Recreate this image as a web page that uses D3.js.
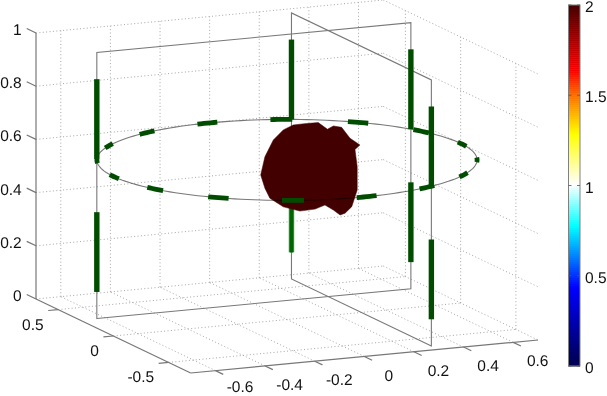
<!DOCTYPE html>
<html>
<head>
<meta charset="utf-8">
<script src="https://cdn.jsdelivr.net/npm/d3@7"></script>
<style>
html,body{margin:0;padding:0;background:#fff;}
svg{display:block;filter:blur(0.4px);}
text{font-family:"Liberation Sans",Arial,sans-serif;font-size:15.5px;fill:#111;text-rendering:geometricPrecision;}
</style>
</head>
<body>
<script>
// ---- data ----
const xTicks = [-0.6,-0.4,-0.2,0,0.2,0.4,0.6];
const yTicks = [-0.5,0,0.5];
const zTicks = [0,0.2,0.4,0.6,0.8,1];
const cbTicks = [0,0.5,1,1.5,2];
const axisLimit = 0.7;
const ringRadius = 0.7;
const ringZ = 0.6;
const planeOffset = 0.3;
const planeHalf = 0.633;
const barRanges = [[0.1,0.4],[0.6,0.9]];
const ringDashCenters = [157.5,180.5,-158,-135.2,-112.2,-89.2,-66.5,-45.6,-24,-1.3,21,44,67.7,90.8,113.5,135.7];
const ringDashHalf = 3.3;
// silhouette of the isosurface, in the plane y = 0
const blobX = [-.106,-.089,-.055,-.015,.025,.079,.126,.163,.187,.220,.254,.294,.274,.283,.283,.261,.234,.214,.187,.153,.113,.052,-.015,-.069,-.089];
const blobZ = [.553,.620,.680,.714,.729,.730,.729,.701,.711,.703,.659,.630,.615,.549,.462,.401,.379,.374,.395,.417,.405,.403,.425,.462,.501];
const cmapValues = [0,0.43,0.77,1,1.28,1.5,1.63,2];
const cmapColors = ["#000050","#0000ff","#00ffff","#ffffff","#ffff00","#ff6a00","#ff0000","#420000"];

// ---- projection built from scales ----
const W = 607, H = 396;
const svg = d3.select("body").append("svg").attr("width",W).attr("height",H);
const lim = [-axisLimit,axisLimit];
const xToPx = d3.scaleLinear().domain(lim).range([190.7,538]);
const xToPy = d3.scaleLinear().domain(lim).range([373,340]);
const yToPx = d3.scaleLinear().domain(lim).range([0,-154.7]);
const yToPy = d3.scaleLinear().domain(lim).range([0,-74]);
const zToPy = d3.scaleLinear().domain([0,1]).range([0,-266]);
const P = (x,y,z) => [xToPx(x)+yToPx(y), xToPy(x)+yToPy(y)+zToPy(z)];
const line3 = d3.line();
const path3 = pts => line3(pts.map(p=>P(p[0],p[1],p[2])));

function seg(parent,a,b,attrs){
  const l = parent.append("path").attr("d",path3([a,b])).attr("fill","none");
  Object.entries(attrs).forEach(([k,v])=>l.attr(k,v));
  return l;
}
const gridStyle = {stroke:"#9c9c9c","stroke-width":0.9,"stroke-dasharray":"1 2.4"};
const axisStyle = {stroke:"#777","stroke-width":1.2};
const planeStyle = {stroke:"#787878","stroke-width":1.1};

// ---- grid on walls and floor ----
const gGrid = svg.append("g");
const a = axisLimit;
xTicks.forEach(x=>{
  seg(gGrid,[x,a,0],[x,a,1],gridStyle);
  seg(gGrid,[x,-a,0],[x,a,0],gridStyle);
});
yTicks.forEach(y=>{
  seg(gGrid,[a,y,0],[a,y,1],gridStyle);
  seg(gGrid,[-a,y,0],[a,y,0],gridStyle);
});
zTicks.forEach(z=>{
  seg(gGrid,[-a,a,z],[a,a,z],gridStyle);
  seg(gGrid,[a,a,z],[a,-a,z],gridStyle);
});

// ---- axes, ticks, labels ----
const gAxes = svg.append("g");
seg(gAxes,[-a,a,0],[-a,a,1],axisStyle);
seg(gAxes,[-a,a,0],[-a,-a,0],axisStyle);
seg(gAxes,[-a,-a,0],[a,-a,0],axisStyle);
const fmt = v => String(v);
zTicks.forEach(z=>{
  seg(gAxes,[-a,a,z],[-a,a+0.084,z],axisStyle);
  const p = P(-a,a,z);
  gAxes.append("text").attr("x",p[0]-14.3).attr("y",p[1]+2).attr("text-anchor","end").text(fmt(z));
});
yTicks.forEach(y=>{
  seg(gAxes,[-a,y,0],[-a-0.04,y,0],axisStyle);
  const p = P(-a,y,0);
  gAxes.append("text").attr("x",p[0]-14.5).attr("y",p[1]+20).attr("text-anchor","end").text(fmt(y));
});
xTicks.forEach(x=>{
  seg(gAxes,[x,-a,0],[x,-a-0.07,0],axisStyle);
  const p = P(x,-a,0);
  // keep the label's text box inside the picture
  gAxes.append("text").attr("x",p[0]+24.5).attr("y",Math.min(p[1]+24,H-3.6)).attr("text-anchor","middle").text(fmt(x));
});

// ---- the two planes (frames) ----
const gPlanes = svg.append("g");
const rect3 = pts => gPlanes.append("path").attr("d",path3(pts)+"Z").attr("fill","none")
  .attr("stroke",planeStyle.stroke).attr("stroke-width",planeStyle["stroke-width"]);
const h = planeHalf, o = planeOffset;
rect3([[-h,o,0],[h,o,0],[h,o,1],[-h,o,1]]);
rect3([[o,-h,0],[o,h,0],[o,h,1],[o,-h,1]]);

// ---- ring ----
const ringPts = (d0,d1,n) => d3.range(n+1).map(i=>{
  const t = (d0+(d1-d0)*i/n)*Math.PI/180;
  return [ringRadius*Math.cos(t),ringRadius*Math.sin(t),ringZ];
});
const gBack = svg.append("g");
gBack.append("path").attr("d",path3(ringPts(0,180,90))).attr("fill","none")
  .attr("stroke","#787878").attr("stroke-width",1.1);
const dashColor = "#004d00";
const barW = 5.4;
const dashW = 4.8;
function drawBar(parent,x,y,r,color,w){
  parent.append("path").attr("d",path3([[x,y,r[0]],[x,y,r[1]]]))
    .attr("fill","none").attr("stroke",color).attr("stroke-width",w);
}
// back bars
barRanges.forEach((r,i)=>{
  if(i===0){
    drawBar(gBack,o,h,r,"#1f8f1f",barW);
    drawBar(gBack,o,h,r,"#006400",3);
  } else drawBar(gBack,o,h,r,dashColor,barW);
});
ringDashCenters.filter(c=>Math.sin(c*Math.PI/180)>=0).forEach(c=>{
  gBack.append("path").attr("d",path3(ringPts(c-ringDashHalf,c+ringDashHalf,6)))
    .attr("fill","none").attr("stroke",dashColor).attr("stroke-width",dashW);
});

// ---- isosurface silhouette ----
const blobColor = d3.scaleLinear().domain(cmapValues).range(cmapColors)(2);
svg.append("path")
  .attr("d",d3.line().curve(d3.curveLinearClosed)(blobX.map((x,i)=>P(x,0,blobZ[i]))))
  .attr("fill",blobColor).attr("stroke",blobColor).attr("stroke-width",0.5);

// ---- front ----
const gFront = svg.append("g");
gFront.append("path").attr("d",path3(ringPts(180,360,90))).attr("fill","none")
  .attr("stroke","#787878").attr("stroke-width",1.1).style("mix-blend-mode","multiply");
ringDashCenters.filter(c=>Math.sin(c*Math.PI/180)<0).forEach(c=>{
  gFront.append("path").attr("d",path3(ringPts(c-ringDashHalf,c+ringDashHalf,6)))
    .attr("fill","none").attr("stroke",dashColor).attr("stroke-width",dashW);
});
[[-h,o],[h,o],[o,-h]].forEach(([x,y])=>{
  barRanges.forEach(r=>drawBar(gFront,x,y,r,dashColor,barW));
});

// ---- colorbar ----
const cb = svg.append("g");
const cbX0 = 568.5, cbX1 = 580;
const cbY = d3.scaleLinear().domain([0,2]).range([366,5]);
const cbColor = d3.scaleLinear().domain(cmapValues).range(cmapColors);
const steps = d3.range(0,2,2/180);
cb.selectAll("rect.s").data(steps).join("rect").attr("class","s")
  .attr("x",cbX0).attr("width",cbX1-cbX0)
  .attr("y",d=>cbY(d+2/180)).attr("height",d=>cbY(d)-cbY(d+2/180)+0.5)
  .attr("fill",d=>cbColor(d));
cb.append("rect").attr("x",cbX0).attr("y",cbY(2)).attr("width",cbX1-cbX0).attr("height",cbY(0)-cbY(2))
  .attr("fill","none").attr("stroke","#808080").attr("stroke-width",1);
cbTicks.forEach(v=>{
  const y = cbY(v);
  cb.append("line").attr("x1",cbX0).attr("x2",cbX0+3).attr("y1",y).attr("y2",y).attr("stroke","#555").attr("stroke-width",0.8);
  cb.append("line").attr("x1",cbX1-3).attr("x2",cbX1).attr("y1",y).attr("y2",y).attr("stroke","#555").attr("stroke-width",0.8);
  cb.append("text").attr("x",585).attr("y",y+7.2).text(fmt(v));
});
</script>
</body>
</html>
